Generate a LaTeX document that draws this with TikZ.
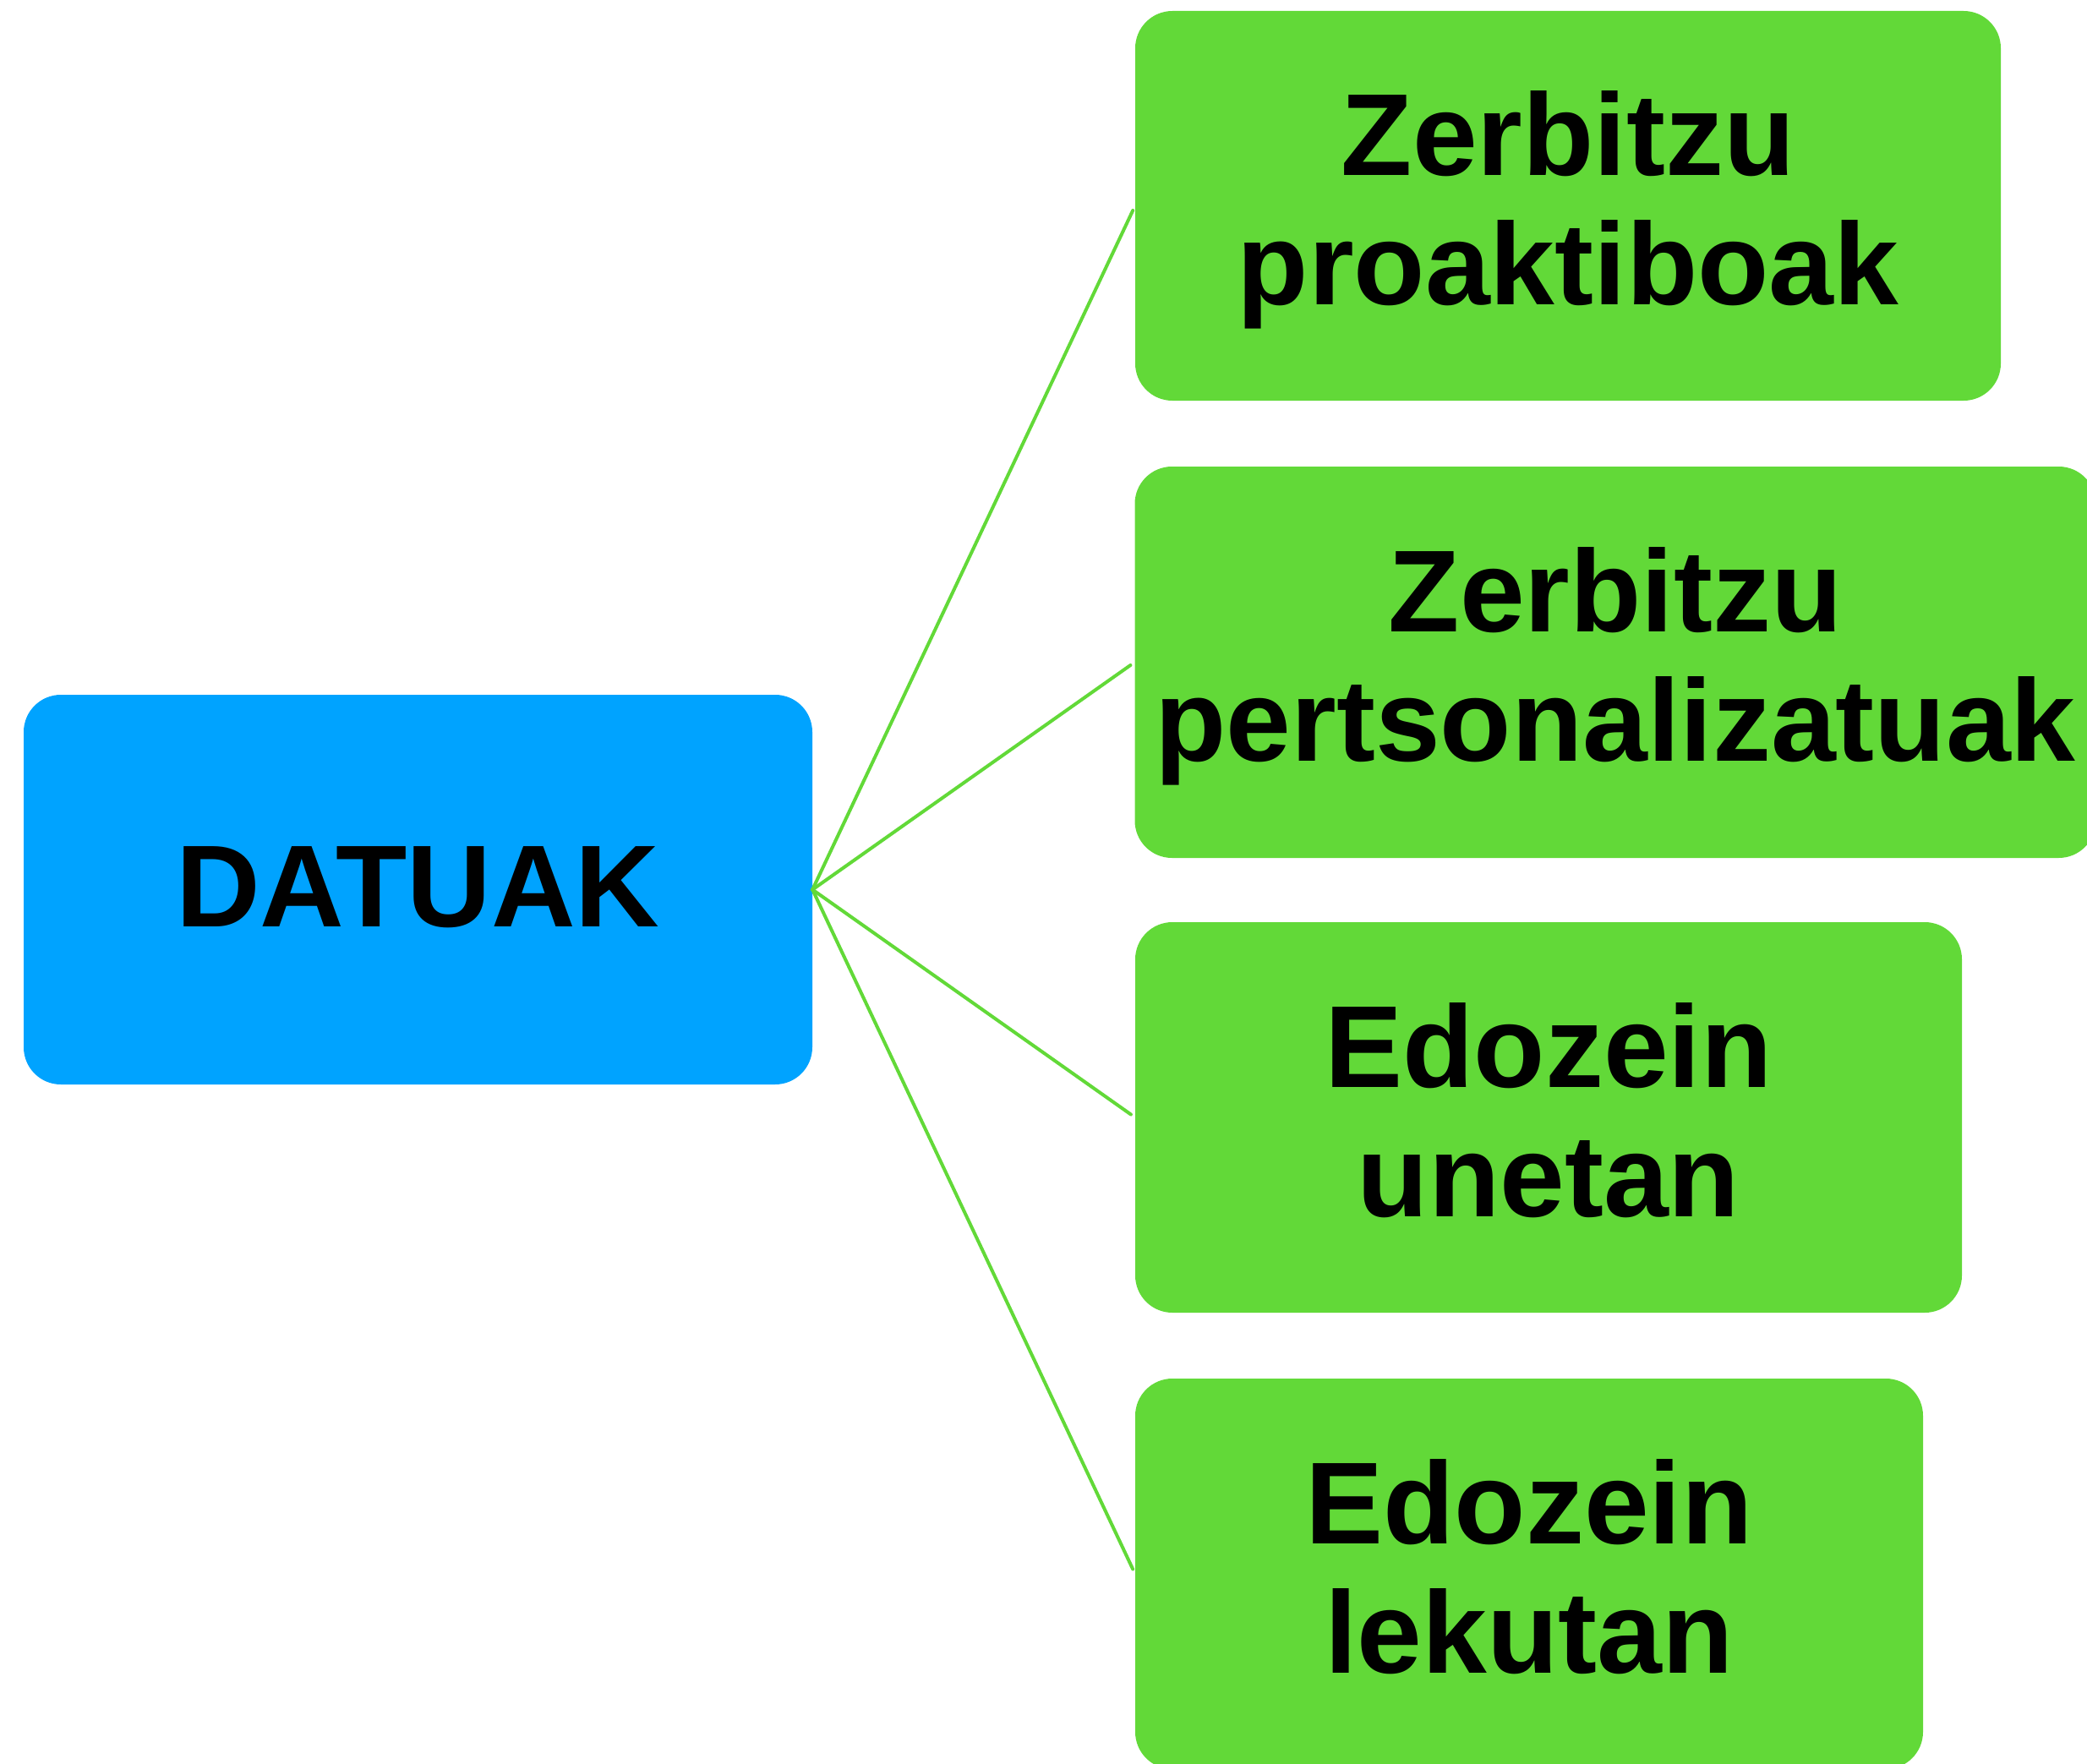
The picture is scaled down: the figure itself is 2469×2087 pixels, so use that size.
\documentclass[tikz,border=0pt]{standalone}
\usepackage{fontspec}
\setmainfont{Liberation Sans}
\definecolor{urdina}{RGB}{0,163,255}
\definecolor{berdea}{RGB}{98,217,56}
\tikzset{
	kutxa/.style={rounded corners=44pt, inner sep=0pt, align=center,
		text height=253pt, text depth=19pt,
		font=\fontsize{138}{153}\selectfont\bfseries},
	lerroa/.style={draw=berdea, line width=4pt, shorten >=6pt}
}
\begin{document}
\begin{tikzpicture}[line join = round, line cap = round, x=1pt, y=-1pt]
			%DATUAK - mapa
			\useasboundingbox (0,0) rectangle (2469,2087);
			\node[kutxa, fill=urdina, text height=100pt, text depth=13pt, minimum width=933pt, minimum height=461pt] (datuak) at (494.5,1052.5) {DATUAK};
			\node[kutxa, fill=berdea, minimum width=1024pt, minimum height=461pt] (z1) at (1855,243.5) {Zerbitzu\\proaktiboak};
			\node[kutxa, fill=berdea, minimum width=1137pt, minimum height=463pt] (z2) at (1911,783.5) {Zerbitzu\\pertsonalizatuak};
			\node[kutxa, fill=berdea, minimum width=978pt, minimum height=462pt] (e1) at (1832,1322) {Edozein\\unetan};
			\node[kutxa, fill=berdea, minimum width=932pt, minimum height=462pt] (e2) at (1809,1862) {Edozein\\lekutan};
			\foreach \p in {z1,z2,e1,e2}
			\draw[lerroa] (datuak.east)--(\p.west);
		\end{tikzpicture}
\end{document}
